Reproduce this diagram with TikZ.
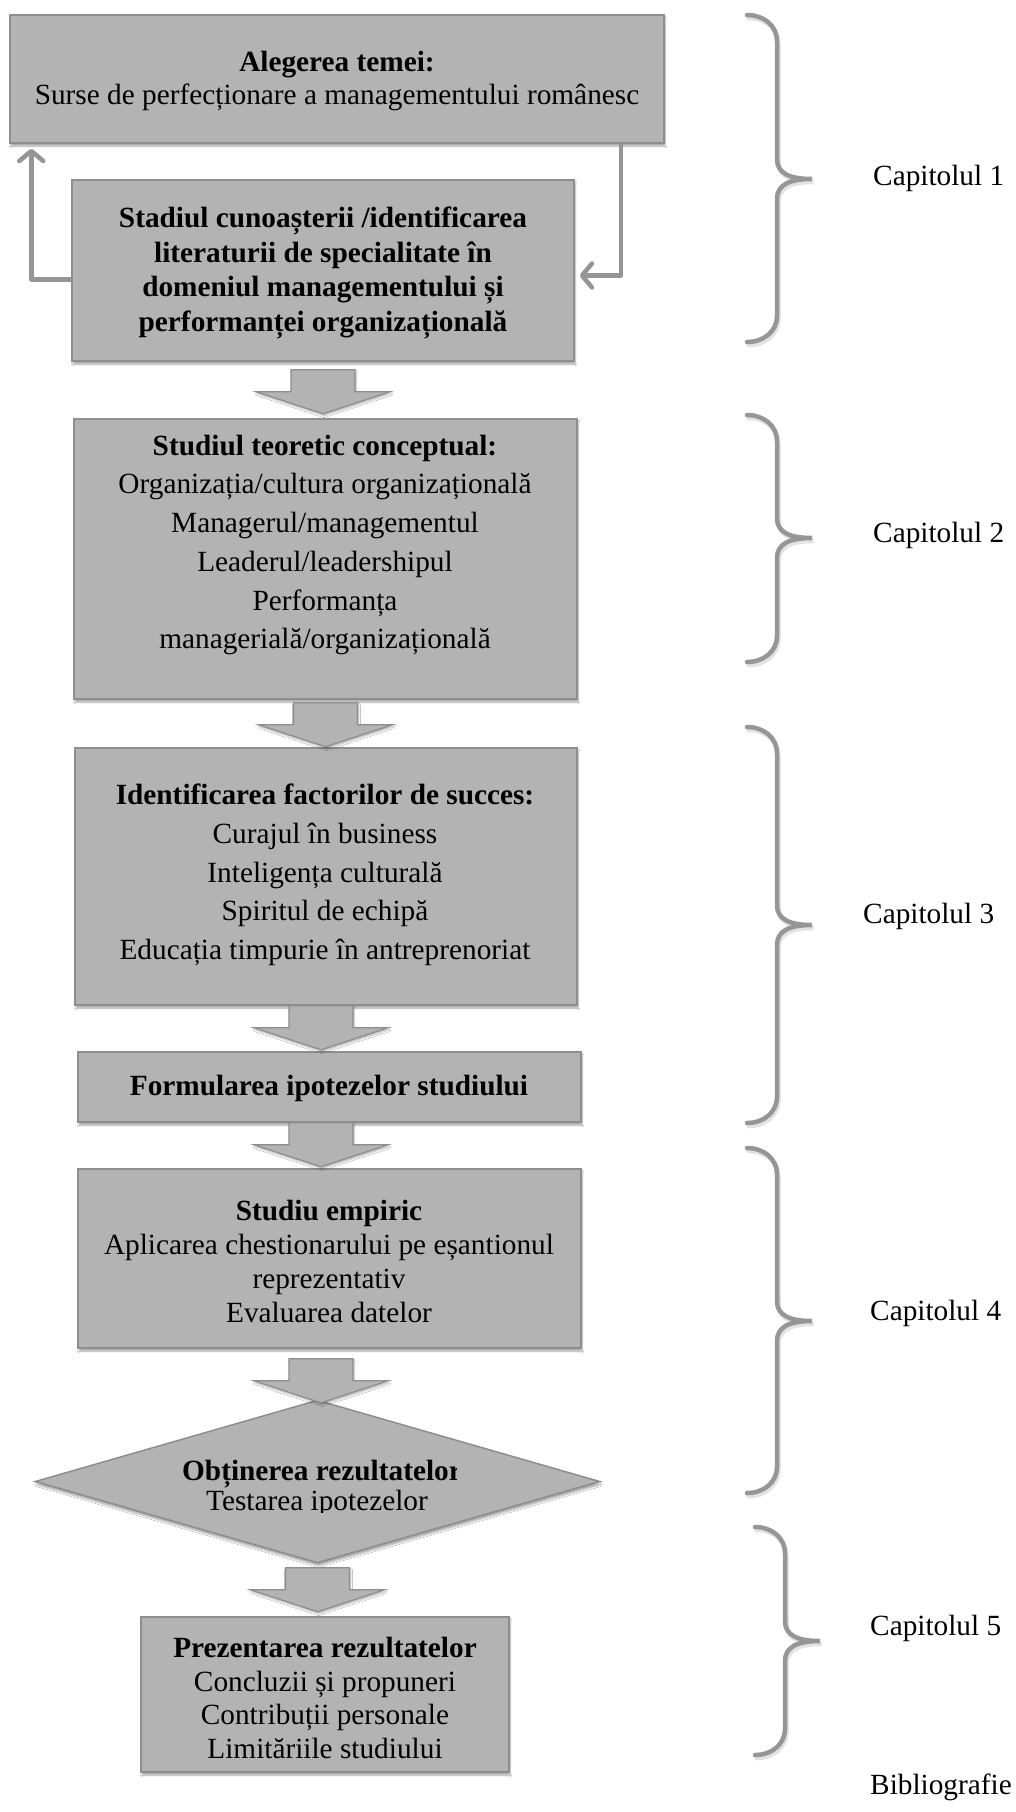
\documentclass[tikz,border=0pt]{standalone}
\usepackage{fontspec}
\setmainfont{Liberation Serif}
\usetikzlibrary{arrows.meta,shapes.geometric,shadows.blur,calc}
\definecolor{boxfill}{HTML}{B3B3B3}
\definecolor{boxline}{HTML}{8E8E8E}
\definecolor{arrowgray}{HTML}{959595}
\definecolor{bracegray}{HTML}{969696}
\definecolor{bshadow}{HTML}{E2E2E2}
\newcommand\chbrace[4]{%
  \pgfmathsetmacro\bxv{#1+30}%
  \pgfmathsetmacro\bxt{#1+65}%
  \foreach \sx/\sy/\col in {1.5/3/bshadow,0/0/bracegray}{%
    \draw[bracesty, draw=\col, shift={(\sx,\sy)}]
      (#1,#2) .. controls (#1+17,#2) and (\bxv,#2+11) .. (\bxv,#2+26)
      -- (\bxv,#3-20) .. controls (\bxv,#3-6) and (\bxv+12,#3) .. (\bxt,#3)
      .. controls (\bxv+12,#3) and (\bxv,#3+6) .. (\bxv,#3+20)
      -- (\bxv,#4-26) .. controls (\bxv,#4-11) and (#1+17,#4) .. (#1,#4);}}
\begin{document}
\begin{tikzpicture}[x=1pt,y=-1pt,
  box/.style={draw=boxline, line width=1.5pt, fill=boxfill, inner sep=0pt,
    blur shadow={shadow xshift=1pt,shadow yshift=-3pt,shadow opacity=35,shadow blur steps=6}},
  txt/.style={align=center, inner sep=0pt, font=\fontsize{29.3}{#1}\selectfont},
  txtb/.style={align=center, inner sep=0pt, font=\fontsize{29.3}{#1}\selectfont\bfseries},
  lbl/.style={anchor=west, inner sep=0pt, font=\fontsize{29.3}{34}\selectfont},
  fb/.style={draw=arrowgray, line width=4.5pt, line join=round,
    -{Straight Barb[round,length=10pt,width=24pt]}},
  bracesty/.style={line width=4.5pt, line cap=round},
  barrowsty/.style={draw=boxline, line width=1.2pt, fill=boxfill,
    blur shadow={shadow xshift=1pt,shadow yshift=-2pt,shadow opacity=30,shadow blur steps=5}},
  pics/barrow/.style={code={\draw[barrowsty] (-32,0) -- (32,0) -- (32,22) -- (67,22)
      -- (0,44) -- (-67,22) -- (-32,22) -- cycle;}}]
\useasboundingbox (0,0) rectangle (1015,1812);
\fill[white] (0,0) rectangle (1015,1812);

% boxes
\node[box, minimum width=654pt, minimum height=128pt] (b1) at (337,79) {};
\node[box, minimum width=502pt, minimum height=181pt] (b2) at (323,270.5) {};
\node[box, minimum width=503pt, minimum height=280pt] (b3) at (325.5,559) {};
\node[box, minimum width=502pt, minimum height=257pt] (b4) at (326,876.5) {};
\node[box, minimum width=503pt, minimum height=70pt] (b5) at (329.5,1087) {};
\node[box, minimum width=503pt, minimum height=179pt] (b6) at (329.5,1258.5) {};
\node[box, diamond, minimum width=565pt, minimum height=163pt] (dia) at (317.5,1481.5) {};
\node[box, minimum width=368pt, minimum height=155pt] (b7) at (325,1694.5) {};

% block arrows
\pic at ([yshift=-8pt]b2.south) {barrow};
\pic at ([yshift=-3pt]b3.south) {barrow};
\pic at (b4.south -| 321,0) {barrow};
\pic at (b5.south -| 321,0) {barrow};
\pic at ([yshift=-10pt]b6.south -| 321,0) {barrow};
\pic at ([yshift=-4pt]dia.south) {barrow};

% feedback connectors
\draw[fb] ([yshift=-9pt]b2.west) -| ([xshift=22pt,yshift=-5pt]b1.south west);
\draw[fb] ([xshift=-44pt]b1.south east) |- ([xshift=5pt,yshift=-5pt]b2.east);

% texts
\node[txt=33] (t1) at (337,81) {\textbf{Alegerea temei:}\\Surse de perfecționare a managementului românesc};
\node[txtb=34.5] (t2) at (323,273) {Stadiul cunoașterii /identificarea\\literaturii de specialitate în\\domeniul managementului și\\performanței organizațională};
\node[txt=38.7] (t3) at (325,545) {\textbf{Studiul teoretic conceptual:}\\Organizația/cultura organizațională\\Managerul/managementul\\Leaderul/leadershipul\\Performanța\\managerială/organizațională};
\node[txt=38.7] (t4) at (325,875) {\textbf{Identificarea factorilor de succes:}\\Curajul în business\\Inteligența culturală\\Spiritul de echipă\\Educația timpurie în antreprenoriat};
\node[txtb=34] (t5) at (329,1088) {Formularea ipotezelor studiului};
\node[txt=34] (t6) at (329,1261) {\textbf{Studiu empiric}\\Aplicarea chestionarului pe eșantionul\\reprezentativ\\Evaluarea datelor};
\begin{scope}
  \clip (100,1440) rectangle (456,1512);
  \node[txtb=30, anchor=base] (d1) at (322,1480) {Obținerea rezultatelor};
  \node[txt=30, anchor=base] (d2) at (317,1510) {Testarea ipotezelor};
\end{scope}
\node[txt=33.5] (t7) at (325,1698) {\textbf{Prezentarea rezultatelor}\\Concluzii și propuneri\\Contribuții personale\\Limităriile studiului};

% braces and chapter labels
\chbrace{747}{15}{179}{342}
\chbrace{747}{415}{538}{662}
\chbrace{747}{727}{925}{1123}
\chbrace{747}{1148}{1321}{1493}
\chbrace{755}{1527}{1641}{1755}
\node[lbl] (c1) at (873,178) {Capitolul 1};
\node[lbl] (c2) at (873,535) {Capitolul 2};
\node[lbl] (c3) at (863,916) {Capitolul 3};
\node[lbl] (c4) at (870,1313) {Capitolul 4};
\node[lbl] (c5) at (870,1628) {Capitolul 5};
\node[lbl] (bib) at (870,1787) {Bibliografie};
\end{tikzpicture}
\end{document}
